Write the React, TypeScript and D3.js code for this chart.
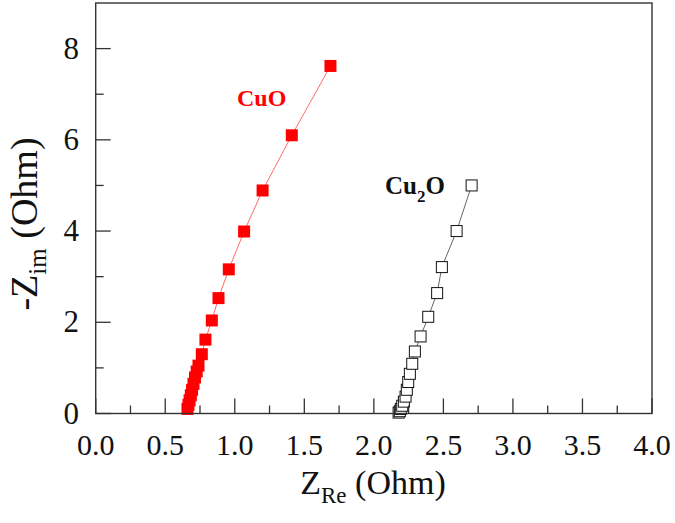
import React from "react";
import * as d3 from "d3";

const cuoX = [0.660, 0.667, 0.675, 0.684, 0.693, 0.703, 0.714, 0.726, 0.739, 0.763, 0.789, 0.835, 0.883, 0.957, 1.067, 1.20, 1.41, 1.688];
const cuoY = [0.10, 0.19, 0.29, 0.40, 0.52, 0.65, 0.79, 0.92, 1.05, 1.30, 1.62, 2.04, 2.53, 3.16, 3.99, 4.89, 6.10, 7.62];

const cu2oX = [2.178, 2.187, 2.194, 2.204, 2.216, 2.228, 2.237, 2.247, 2.259, 2.276, 2.295, 2.336, 2.391, 2.455, 2.489, 2.595, 2.703];
const cu2oY = [0.02, 0.05, 0.10, 0.17, 0.26, 0.37, 0.52, 0.69, 0.87, 1.09, 1.36, 1.69, 2.12, 2.64, 3.21, 4.00, 5.00];

const xMajor = [0, 0.5, 1, 1.5, 2, 2.5, 3, 3.5, 4];
const xMinor = [0.25, 0.75, 1.25, 1.75, 2.25, 2.75, 3.25, 3.75];
const yMajor = [0, 2, 4, 6, 8];
const yMinor = [1, 3, 5, 7];

const FONT = "Liberation Serif, Times New Roman, serif";

export default function App() {
  const x = d3.scaleLinear().domain([0, 4]).range([95.7, 652]);
  const y = d3.scaleLinear().domain([0, 9]).range([413.5, 3]);
  const left = x(0), right = x(4), top = y(9), bottom = y(0);
  const line = d3.line<[number, number]>().x(d => x(d[0])).y(d => y(d[1]));
  const cuo: [number, number][] = cuoX.map((v, i) => [v, cuoY[i]]);
  const cu2o: [number, number][] = cu2oX.map((v, i) => [v, cu2oY[i]]);
  const s = 12;
  const axisColor = "#333";
  const tf = { fontFamily: FONT } as React.CSSProperties;
  return (
    <svg width={675} height={523} style={{ position: "absolute", left: 0, top: 0, background: "#fff", fontFamily: FONT }}>
      <rect x={0} y={0} width={675} height={523} fill="#fff" />
      <path d={line(cuo) || ""} fill="none" stroke="#ff6b6b" strokeWidth={1} />
      <path d={line(cu2o) || ""} fill="none" stroke="#666" strokeWidth={1} />
      {cuo.map((d, i) => (
        <rect key={"a" + i} x={x(d[0]) - s / 2} y={y(d[1]) - s / 2} width={s} height={s} fill="#ff0000" />
      ))}
      {cu2o.map((d, i) => (
        <rect key={"b" + i} x={x(d[0]) - s / 2 + 0.5} y={y(d[1]) - s / 2 + 0.5} width={s - 1} height={s - 1} fill="#fff" stroke="#111" strokeWidth={1} />
      ))}
      <rect x={left} y={top} width={right - left} height={bottom - top} fill="none" stroke={axisColor} strokeWidth={1.4} />
      {xMajor.map(t => (
        <line key={"xm" + t} x1={x(t)} x2={x(t)} y1={bottom} y2={bottom - 15} stroke={axisColor} strokeWidth={1.3} />
      ))}
      {xMinor.map(t => (
        <line key={"xn" + t} x1={x(t)} x2={x(t)} y1={bottom} y2={bottom - 8} stroke={axisColor} strokeWidth={1.3} />
      ))}
      {yMajor.map(t => (
        <line key={"ym" + t} x1={left} x2={left + 15} y1={y(t)} y2={y(t)} stroke={axisColor} strokeWidth={1.3} />
      ))}
      {yMinor.map(t => (
        <line key={"yn" + t} x1={left} x2={left + 8} y1={y(t)} y2={y(t)} stroke={axisColor} strokeWidth={1.3} />
      ))}
      {xMajor.map(t => (
        <text key={"xl" + t} x={x(t)} y={455} textAnchor="middle" style={tf} fontSize={30} fill="#111">
          {t.toFixed(1)}
        </text>
      ))}
      {yMajor.map(t => (
        <text key={"yl" + t} x={79} y={y(t) + 10} textAnchor="end" style={tf} fontSize={31} fill="#111">
          {t}
        </text>
      ))}
      <text x={373} y={494} textAnchor="middle" style={tf} fontSize={34} fill="#111">
        Z<tspan fontSize={23} dy={9}>Re</tspan><tspan dy={-9}> (Ohm)</tspan>
      </text>
      <text transform="translate(37,224) rotate(-90)" textAnchor="middle" style={tf} fontSize={38} fill="#111">
        -Z<tspan fontSize={25} dy={9}>im</tspan><tspan dy={-9}> (Ohm)</tspan>
      </text>
      <text x={237} y={106} style={tf} fontSize={24} fontWeight="bold" fill="#ff0000">CuO</text>
      <text x={385} y={194} style={tf} fontSize={25} fontWeight="bold" fill="#111">
        Cu<tspan fontSize={17} dy={8}>2</tspan><tspan dy={-8}>O</tspan>
      </text>
    </svg>
  );
}
